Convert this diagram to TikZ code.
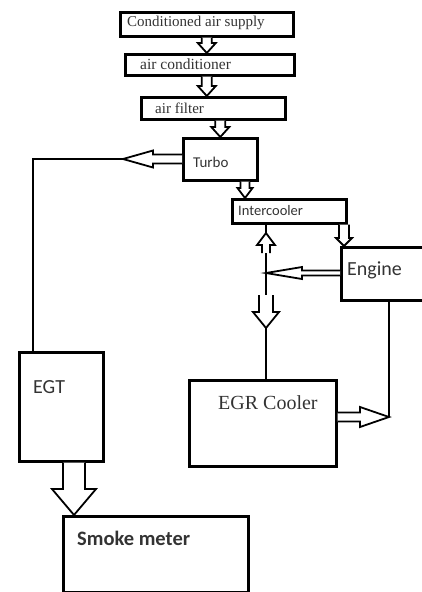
\documentclass[tikz,border=0pt]{standalone}
\usepackage{fontspec}
\setmainfont{Liberation Serif}
\newfontfamily\calibri{Carlito}
\usetikzlibrary{calc}

\tikzset{
  box/.style={draw, line width=2.6pt, inner sep=0pt, anchor=north west},
  lbl/.style={anchor=west, inner sep=0pt, text=black!80},
  wire/.style={line width=2.4pt},
  harrow/.style={draw, fill=white, line width=1.8pt}
}

% hollow block arrow: start, tip, half shaft, half head, head length
\newcommand{\hollowarrow}[5]{%
  \coordinate (hb) at ($(#2)!#5!(#1)$);
  \draw[harrow] ($(#1)!#3!90:(#2)$) -- ($(hb)!#3!90:(#2)$) -- ($(hb)!#4!90:(#2)$) -- (#2)
    -- ($(hb)!#4!-90:(#2)$) -- ($(hb)!#3!-90:(#2)$) -- ($(#1)!#3!-90:(#2)$);}

\begin{document}
\begin{tikzpicture}[x=1pt, y=-1pt]
\useasboundingbox (0,0) rectangle (422,592);
\clip (0,0) rectangle (422,592);

% boxes
\node[box, minimum width=173pt, minimum height=24pt] (supply) at (119,11) {};
\node[box, minimum width=169pt, minimum height=21pt] (cond) at (124,53) {};
\node[box, minimum width=144pt, minimum height=22pt] (filter) at (140,96) {};
\node[box, minimum width=74pt, minimum height=42pt] (turbo) at (182,137) {};
\node[box, minimum width=114pt, minimum height=24pt] (ic) at (231,198) {};
\node[box, minimum width=95pt, minimum height=53pt] (engine) at (340,246) {};
\node[box, minimum width=84pt, minimum height=109pt] (egt) at (18,351) {};
\node[box, minimum width=147pt, minimum height=86pt] (egr) at (188,379) {};
\node[box, minimum width=185pt, minimum height=76pt] (smoke) at (62,515) {};

% labels
\node[lbl, font=\fontsize{15}{18}\selectfont] at (127,23) {Conditioned air supply};
\node[lbl, font=\fontsize{15.5}{18}\selectfont] at (140,64) {air conditioner};
\node[lbl, font=\fontsize{15}{18}\selectfont] at (155,108) {air filter};
\node[lbl, font=\calibri\fontsize{15}{18}\selectfont] at (193,162) {Turbo};
\node[lbl, font=\calibri\fontsize{14.5}{18}\selectfont] at (238,211) {Intercooler};
\node[lbl, font=\calibri\fontsize{20}{24}\selectfont] at (347,270) {Engine};
\node[lbl, font=\calibri\fontsize{20}{24}\selectfont] at (33,387) {EGT};
\node[lbl, font=\fontsize{20}{24}\selectfont] at (218,403) {EGR Cooler};
\node[lbl, font=\calibri\bfseries\fontsize{20.5}{24}\selectfont] at (77,538) {Smoke meter};

% air path
\hollowarrow{supply.south}{cond.north -| supply.south}{5pt}{9pt}{10pt}
\hollowarrow{cond.south -| supply.south}{filter.north -| supply.south}{5pt}{9pt}{10pt}
\hollowarrow{filter.south -| turbo.north}{turbo.north}{5pt}{9pt}{10pt}
\coordinate (tic) at (245,0);
\hollowarrow{turbo.south -| tic}{ic.north -| tic}{4.5pt}{7.5pt}{10pt}
\coordinate (ie) at (344,0);
\hollowarrow{ic.south -| ie}{engine.north -| ie}{5pt}{8pt}{8pt}

% exhaust to EGT
\coordinate (tl) at (123,159);
\coordinate (corner) at (33,159);
\draw[wire] (tl) -- (corner) -- (corner |- egt.north);
\hollowarrow{turbo.west |- tl}{tl}{4.5pt}{8.5pt}{30pt}

% EGR loop
\coordinate (jn) at (266,273);
\coordinate (upa) at (266,253);
\coordinate (upb) at (266,233);
\coordinate (dna) at (266,295);
\coordinate (dnb) at (266,328);
\hollowarrow{upa}{upb}{4pt}{9pt}{12pt}
\hollowarrow{engine.west |- jn}{jn}{2.5pt}{6pt}{36pt}
\hollowarrow{dna}{dnb}{7pt}{13pt}{16pt}
\draw[wire] (ic.south -| jn) -- (upb);
\draw[wire] (upa) -- (jn) -- (dna);
\draw[wire] (dnb) -- (egr.north -| jn);
\coordinate (eg) at (389,417);
\draw[wire] (engine.south -| eg) -- (eg);
\hollowarrow{egr.east |- eg}{eg}{4.5pt}{10pt}{29pt}

% EGT to smoke meter
\coordinate (sm) at (74,0);
\hollowarrow{egt.south -| sm}{smoke.north -| sm}{11pt}{22pt}{26pt}
\end{tikzpicture}
\end{document}
